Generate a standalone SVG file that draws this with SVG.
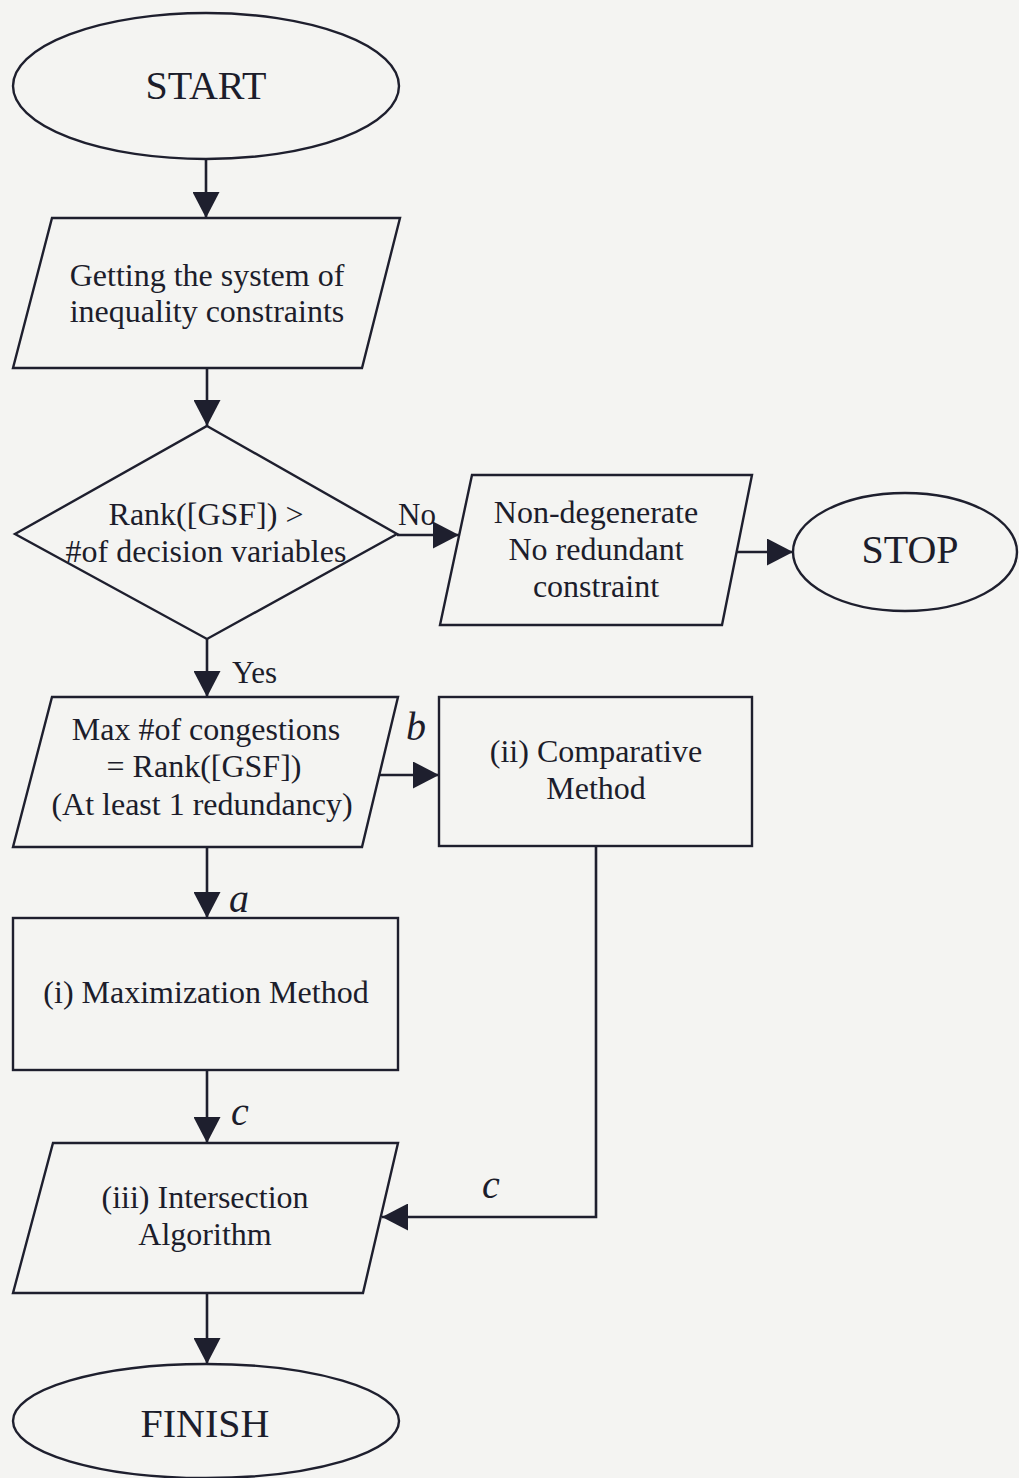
<svg xmlns="http://www.w3.org/2000/svg" width="1019" height="1478" viewBox="0 0 1019 1478">
  <style>
    .shape { fill: none; stroke: #1e1f2e; stroke-width: 2.4; }
    .wire { fill: none; stroke: #1e1f2e; stroke-width: 2.6; }
    text { font-family: "Liberation Serif", "Times New Roman", serif; fill: #1c1d2b; text-anchor: middle; }
    .body { font-size: 32px; }
    .term { font-size: 40px; }
    .lbl { font-size: 31px; text-anchor: start; }
    .tag { font-size: 40px; font-style: italic; text-anchor: start; }
  </style>
  <defs>
    <marker id="arrow" markerUnits="userSpaceOnUse" markerWidth="26" markerHeight="27" refX="26" refY="13.5" orient="auto">
      <path d="M0,0 L26,13.5 L0,27 z" fill="#1e1f2e"/>
    </marker>
  </defs>

  <rect width="1019" height="1478" fill="#f4f4f2"/>

  <!-- connectors -->
  <g id="connectors">
    <path class="wire" d="M206 159 L206 218" marker-end="url(#arrow)"/>
    <path class="wire" d="M207 368 L207 426" marker-end="url(#arrow)"/>
    <path class="wire" d="M397 535 L459 535" marker-end="url(#arrow)"/>
    <path class="wire" d="M737 552 L793 552" marker-end="url(#arrow)"/>
    <path class="wire" d="M207 639 L207 697" marker-end="url(#arrow)"/>
    <path class="wire" d="M379 775 L439 775" marker-end="url(#arrow)"/>
    <path class="wire" d="M207 847 L207 918" marker-end="url(#arrow)"/>
    <path class="wire" d="M207 1070 L207 1143" marker-end="url(#arrow)"/>
    <path class="wire" d="M596 846 L596 1217 L382 1217" marker-end="url(#arrow)"/>
    <path class="wire" d="M207 1293 L207 1364" marker-end="url(#arrow)"/>
    <text class="lbl" x="398" y="525">No</text>
    <text class="lbl" x="232" y="683">Yes</text>
    <text class="tag" x="406" y="740">b</text>
    <text class="tag" x="229" y="912">a</text>
    <text class="tag" x="231" y="1125">c</text>
    <text class="tag" x="482" y="1198">c</text>
  </g>

  <g id="start">
    <ellipse class="shape" cx="206" cy="86" rx="193" ry="73"/>
    <text class="term" x="206" y="99">START</text>
  </g>

  <g id="get-constraints">
    <polygon class="shape" points="52,218 400,218 362,368 13,368"/>
    <text class="body" x="207" y="286">Getting the system of</text>
    <text class="body" x="207" y="322">inequality constraints</text>
  </g>

  <g id="rank-check">
    <polygon class="shape" points="207,426 397,534 207,639 15,534"/>
    <text class="body" x="206" y="525">Rank([GSF]) &gt;</text>
    <text class="body" x="206" y="562">#of decision variables</text>
  </g>

  <g id="non-degenerate">
    <polygon class="shape" points="472,475 752,475 722,625 440,625"/>
    <text class="body" x="596" y="523">Non-degenerate</text>
    <text class="body" x="596" y="560">No redundant</text>
    <text class="body" x="596" y="597">constraint</text>
  </g>

  <g id="stop">
    <ellipse class="shape" cx="905" cy="552" rx="112" ry="59"/>
    <text class="term" x="910" y="563">STOP</text>
  </g>

  <g id="max-congestions">
    <polygon class="shape" points="52,697 398,697 362,847 13,847"/>
    <text class="body" x="206" y="740">Max #of congestions</text>
    <text class="body" x="204" y="777">= Rank([GSF])</text>
    <text class="body" x="202" y="815">(At least 1 redundancy)</text>
  </g>

  <g id="comparative">
    <rect class="shape" x="439" y="697" width="313" height="149"/>
    <text class="body" x="596" y="762">(ii) Comparative</text>
    <text class="body" x="596" y="799">Method</text>
  </g>

  <g id="maximization">
    <rect class="shape" x="13" y="918" width="385" height="152"/>
    <text class="body" x="206" y="1003">(i) Maximization Method</text>
  </g>

  <g id="intersection">
    <polygon class="shape" points="53,1143 398,1143 363,1293 13,1293"/>
    <text class="body" x="205" y="1208">(iii) Intersection</text>
    <text class="body" x="205" y="1245">Algorithm</text>
  </g>

  <g id="finish">
    <ellipse class="shape" cx="206" cy="1421" rx="193" ry="57"/>
    <text class="term" x="205" y="1437">FINISH</text>
  </g>
</svg>
